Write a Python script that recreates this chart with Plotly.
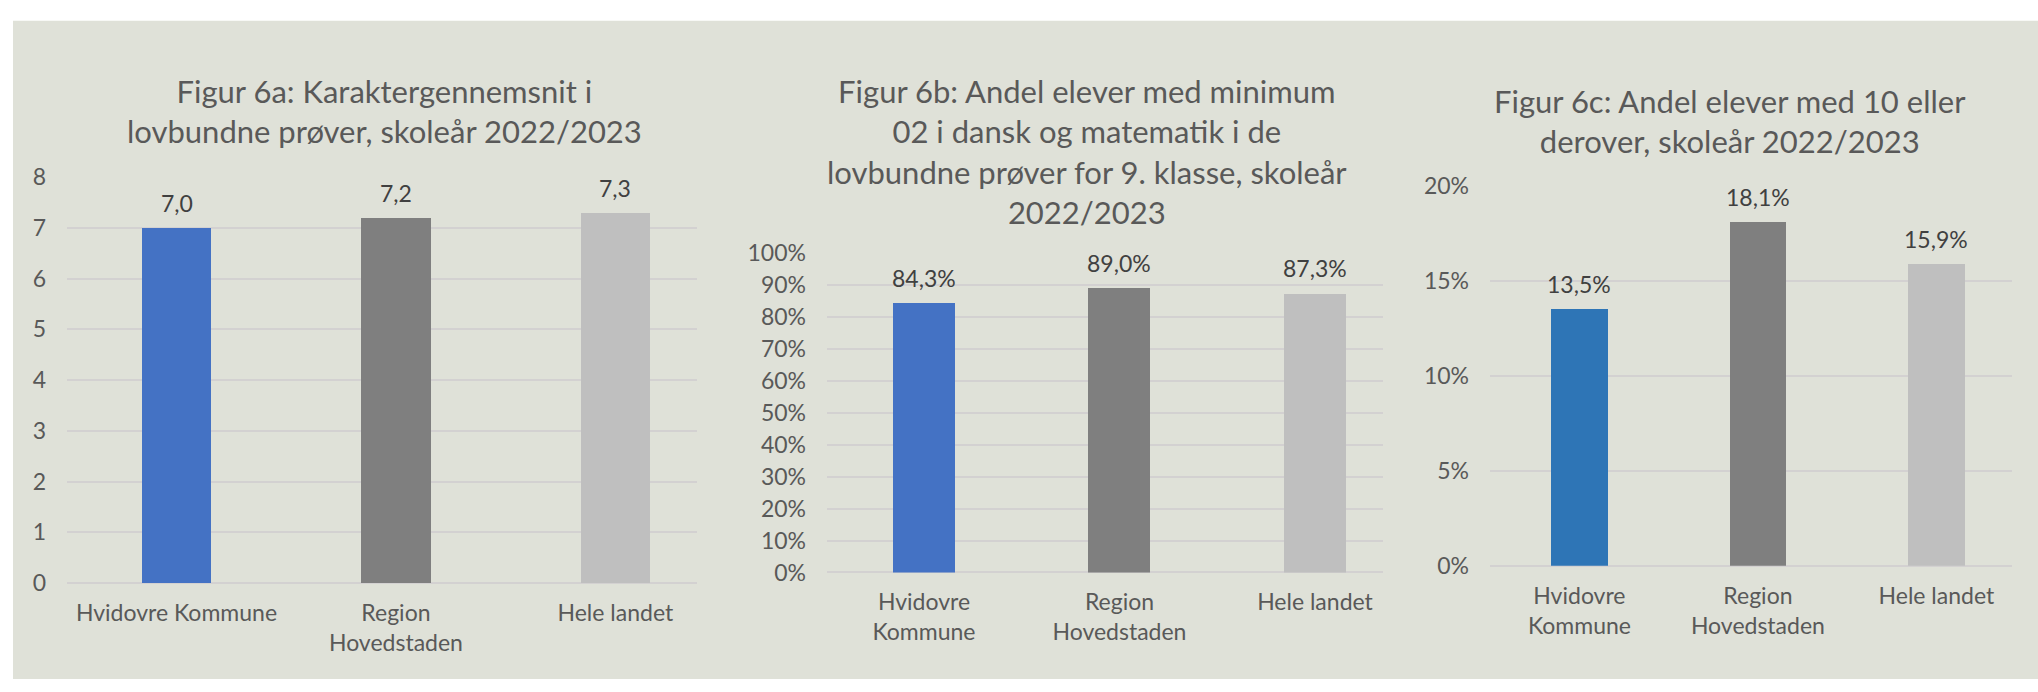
import plotly.graph_objects as go

# ---- data ----
cat_6a = ["Hvidovre Kommune", "Region<br>Hovedstaden", "Hele landet"]
cat_6b = ["Hvidovre<br>Kommune", "Region<br>Hovedstaden", "Hele landet"]
cat_6c = ["Hvidovre<br>Kommune", "Region<br>Hovedstaden", "Hele landet"]

val_6a = [7.0, 7.2, 7.3]          # karaktergennemsnit
val_6b = [84.3, 89.0, 87.3]       # procent
val_6c = [13.5, 18.1, 15.9]       # procent

title_6a = ["Figur 6a: Karaktergennemsnit i", "lovbundne prøver, skoleår 2022/2023"]
title_6b = ["Figur 6b: Andel elever med minimum", "02 i dansk og matematik i de",
            "lovbundne prøver for 9. klasse, skoleår", "2022/2023"]
title_6c = ["Figur 6c: Andel elever med 10 eller", "derover, skoleår 2022/2023"]

colors_6ab = ["#4472C4", "#7F7F7F", "#BFBFBF"]
colors_6c = ["#2E75B6", "#7F7F7F", "#BFBFBF"]

# ---- style ----
W, H = 2038, 692
FONT = "Lato"
BG = "#DFE1D8"
GRID = "#D3D1D1"
TXT = "#595959"
LBL = "#404040"

def px_x(p):
    return p / W

def px_y(p):
    return 1 - p / H

fig = go.Figure()

panels = [
    dict(cats=cat_6a, vals=val_6a, colors=colors_6ab, xdom=(67, 697), ydom=(592, 169),
         xr=[-0.499, 2.372], yr=[0, 8], dtick=1, suffix="", fmt=lambda v: f"{v:.1f}".replace(".", ","),
         title=title_6a, tx=384, ty=100.5),
    dict(cats=cat_6b, vals=val_6b, colors=colors_6ab, xdom=(827, 1383), ydom=(581, 247.7),
         xr=[-0.496, 2.348], yr=[0, 100], dtick=10, suffix="%", fmt=lambda v: f"{v:.1f}".replace(".", ",") + "%",
         title=title_6b, tx=1087, ty=142.5),
    dict(cats=cat_6c, vals=val_6c, colors=colors_6c, xdom=(1490, 2012), ydom=(574, 178),
         xr=[-0.501, 2.4235], yr=[0, 20], dtick=5, suffix="%", fmt=lambda v: f"{v:.1f}".replace(".", ",") + "%",
         title=title_6c, tx=1730, ty=110),
]

annotations = []
for i, p in enumerate(panels, start=1):
    xa = "x" if i == 1 else f"x{i}"
    ya = "y" if i == 1 else f"y{i}"
    xs = list(range(len(p["cats"])))
    fig.add_trace(go.Bar(x=xs, y=p["vals"], marker=dict(color=p["colors"], line=dict(width=0)),
                         width=0.317, xaxis=xa, yaxis=ya, showlegend=False, hoverinfo="x+y"))
    axn = "" if i == 1 else str(i)
    fig.update_layout(**{
        f"xaxis{axn}": dict(domain=[px_x(p["xdom"][0]), px_x(p["xdom"][1])], range=p["xr"],
                            tickvals=xs, ticktext=p["cats"], showgrid=False, zeroline=False,
                            showline=False, ticks="", tickfont=dict(family=FONT, size=23, color=TXT),
                            ticklabelstandoff=14, anchor=ya, fixedrange=True),
        f"yaxis{axn}": dict(domain=[px_y(p["ydom"][0]), px_y(p["ydom"][1])], range=p["yr"],
                            dtick=p["dtick"], ticksuffix=p["suffix"], showgrid=True, gridcolor=GRID,
                            gridwidth=2, zeroline=True, zerolinecolor=GRID, zerolinewidth=2,
                            showline=False, ticks="", tickfont=dict(family=FONT, size=23, color=TXT),
                            ticklabelstandoff=20, anchor=xa, fixedrange=True),
    })
    for x, v in zip(xs, p["vals"]):
        annotations.append(dict(x=x, y=v, xref=xa, yref=ya, text=p["fmt"](v), showarrow=False,
                                yanchor="middle", yshift=25,
                                font=dict(family=FONT, size=23, color=LBL)))
    annotations.append(dict(x=px_x(p["tx"]), y=px_y(p["ty"]), xref="paper", yref="paper",
                            text="<br>".join(p["title"]), showarrow=False, xanchor="center",
                            yanchor="middle", align="center",
                            font=dict(family=FONT, size=31, color=TXT)))

fig.update_layout(
    width=W, height=H,
    margin=dict(l=0, r=0, t=0, b=0),
    paper_bgcolor="white",
    plot_bgcolor="rgba(0,0,0,0)",
    annotations=annotations,
    shapes=[dict(type="rect", xref="paper", yref="paper", x0=px_x(13), x1=1, y0=0, y1=px_y(6),
                 fillcolor=BG, line=dict(width=0), layer="below")],
    bargap=0,
)

fig.write_html("out.html", config={"displayModeBar": False},
               post_script=("document.documentElement.style.margin='0px';"
                            "document.body.style.margin='0px';document.body.style.padding='0px';"
                            "document.body.style.overflow='hidden';"))
